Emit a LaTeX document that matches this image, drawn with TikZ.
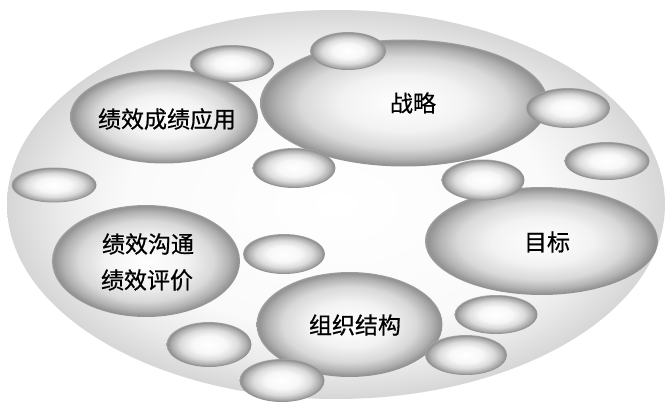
\documentclass[tikz,border=0pt]{standalone}
\usepackage{fontspec}
\newfontfamily\cjk[FakeBold=0.6]{Noto Sans CJK SC}
\usetikzlibrary{shapes.geometric}
\pgfdeclareradialshading{plateshade}{\pgfpoint{0bp}{0bp}}{color(0bp)=(white); color(16bp)=(white!98!black); color(21bp)=(white!92!black); color(25bp)=(white!84!black); color(50bp)=(white!84!black)}
\pgfdeclareradialshading{bigshade}{\pgfpoint{0bp}{0bp}}{color(0bp)=(white); color(11bp)=(white!95!black); color(18bp)=(white!85!black); color(22bp)=(white!70!black); color(24.5bp)=(white!57!black); color(25bp)=(white!62!black); color(50bp)=(white!62!black)}
\pgfdeclareradialshading{smallshade}{\pgfpoint{0bp}{0bp}}{color(0bp)=(white); color(10bp)=(white!97!black); color(17bp)=(white!86!black); color(22bp)=(white!68!black); color(24.5bp)=(white!55!black); color(25bp)=(white!65!black); color(50bp)=(white!65!black)}
\tikzset{
  plate/.style={ellipse, inner sep=0pt, shading=plateshade},
  bigball/.style={ellipse, inner sep=0pt, shading=bigshade},
  bubble/.style={ellipse, inner sep=0pt, shading=smallshade},
  txt/.style={font=\cjk\fontsize{23}{27}\selectfont, text=black, inner sep=0pt}
}
\begin{document}
\begin{tikzpicture}[x=1pt,y=-1pt]
\useasboundingbox (0,0) rectangle (670,404);
\fill[white] (0,0) rectangle (670,404);
\node[plate, minimum width=658, minimum height=389] (plate) at (336,204.5) {};
% big ellipses
\node[bigball, minimum width=288, minimum height=127] (strategy) at (404,103) {};
\node[bigball, minimum width=188, minimum height=94] (apply) at (164,116.5) {};
\node[bigball, minimum width=233, minimum height=108] (goal) at (541.5,241) {};
\node[bigball, minimum width=188, minimum height=112] (comm) at (146,261) {};
\node[bigball, minimum width=186, minimum height=105] (org) at (349.5,324.5) {};
% small bubbles
\node[bubble, minimum width=76, minimum height=38] (b1) at (348,51) {};
\node[bubble, minimum width=84, minimum height=37] (b2) at (232,63.5) {};
\node[bubble, minimum width=84, minimum height=40] (b3) at (568,108) {};
\node[bubble, minimum width=85, minimum height=38] (b4) at (607,161) {};
\node[bubble, minimum width=83, minimum height=41] (b5) at (483,180) {};
\node[bubble, minimum width=83, minimum height=40] (b6) at (294,168) {};
\node[bubble, minimum width=85, minimum height=35] (b7) at (54,185) {};
\node[bubble, minimum width=82, minimum height=40] (b8) at (284,254) {};
\node[bubble, minimum width=85, minimum height=45] (b9) at (209,344.5) {};
\node[bubble, minimum width=85, minimum height=43] (b10) at (282,380.5) {};
\node[bubble, minimum width=83, minimum height=39] (b11) at (496,314.5) {};
\node[bubble, minimum width=82, minimum height=40] (b12) at (466,355) {};
% texts
\node[txt] (t1) at (413,103) {战略};
\node[txt] (t2) at (167,119) {绩效成绩应用};
\node[txt] (t3) at (547,242) {目标};
\node[txt] (t4) at (148,244) {绩效沟通};
\node[txt] (t5) at (147,280) {绩效评价};
\node[txt] (t6) at (355,325) {组织结构};
\end{tikzpicture}
\end{document}
